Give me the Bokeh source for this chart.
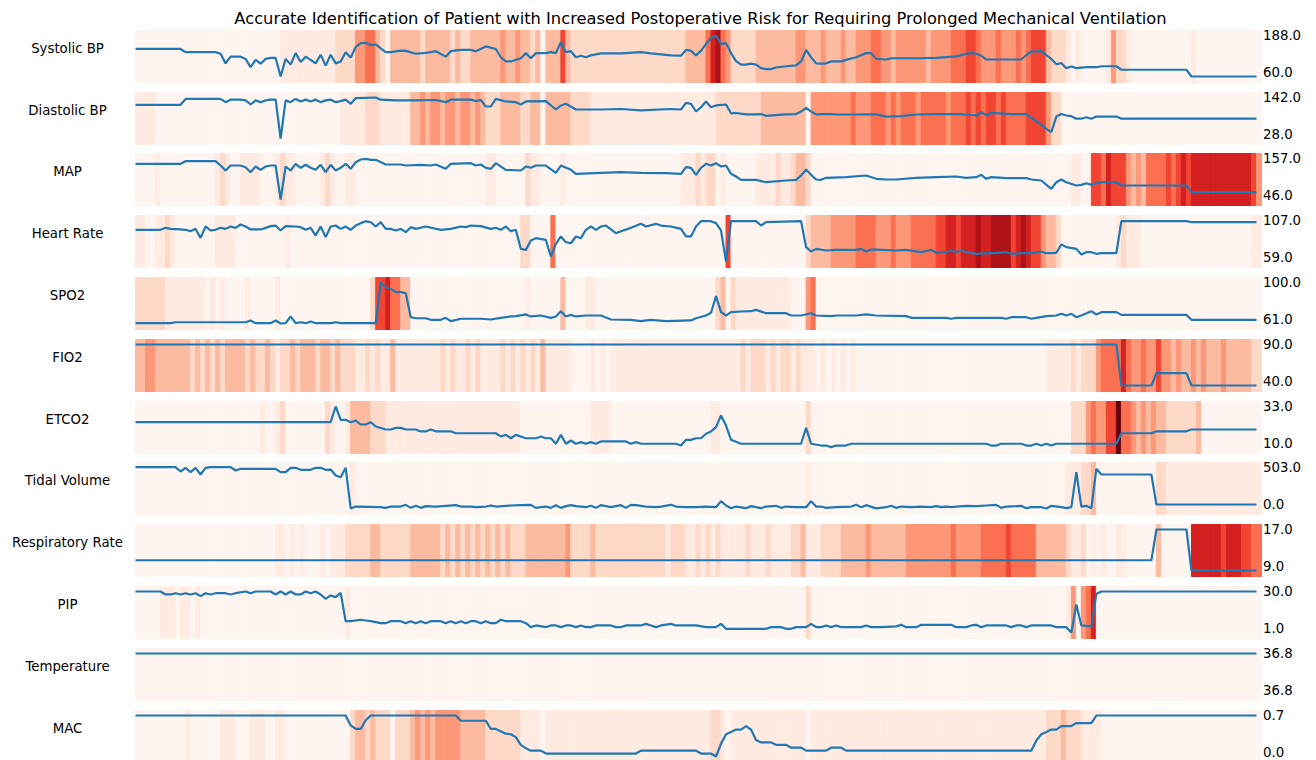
from bokeh.plotting import figure
from bokeh.models import Range1d, Label, ColumnDataSource, LinearColorMapper
from bokeh.layouts import column
from bokeh.embed import file_html
from bokeh.resources import INLINE

TITLE = "Accurate Identification of Patient with Increased Postoperative Risk for Requiring Prolonged Mechanical Ventilation"
N_STEPS = 225

ROW_NAMES = ["Systolic BP", "Diastolic BP", "MAP", "Heart Rate", "SPO2", "FIO2", "ETCO2",
             "Tidal Volume", "Respiratory Rate", "PIP", "Temperature", "MAC"]
LABEL_HI = [188.0, 142.0, 157.0, 107.0, 100.0, 90.0, 33.0, 503.0, 17.0, 30.0, 36.8, 0.7]
LABEL_LO = [60.0, 28.0, 46.0, 59.0, 61.0, 40.0, 10.0, 0.0, 9.0, 1.0, 36.8, 0.0]

# line series: (time step, value)
SYS = [(0,146),(9,146),(10,136),(16,136),(17,131),(18,101),(19,122),(21,122),(22,115),(23,89),(24,112),(25,100),(26,115),(27,118),(28,118),(29,60),(30,115),(31,97),(32,133),(33,105),(34,122),(35,112),(36,101),(37,128),(38,94),(39,128),(40,101),(41,107),(42,136),(43,119),(44,152),(45,164),(46,165),(47,158),(48,160),(49,148),(50,136),(51,136),(53,141),(54,140),(56,131),(58,134),(59,136),(60,139),(62,122),(63,139),(65,143),(67,143),(68,139),(70,154),(72,146),(73,120),(74,107),(75,107),(77,117),(78,133),(79,117),(80,133),(82,133),(83,136),(84,133),(85,167),(86,136),(87,139),(88,120),(89,125),(90,120),(91,126),(93,132),(97,132),(101,136),(103,132),(107,126),(109,125),(110,143),(111,140),(112,126),(113,140),(114,162),(115,181),(116,188),(117,162),(118,164),(119,133),(120,108),(121,97),(122,97),(123,100),(124,97),(125,86),(126,83),(127,83),(128,88),(130,92),(132,95),(133,107),(134,143),(135,120),(136,101),(137,100),(138,101),(139,107),(141,107),(142,112),(144,120),(146,133),(147,133),(148,115),(150,113),(151,117),(156,117),(160,118),(164,123),(166,131),(167,134),(168,131),(169,125),(170,113),(177,113),(178,127),(179,138),(181,139),(182,127),(183,115),(184,98),(185,102),(186,86),(187,91),(188,86),(190,89),(192,89),(193,92),(196,92),(197,81),(210,81),(211,60),(224,60)]
DIA = [(0,121.7),(9,121.7),(10,138),(17,138),(18,129),(19,136),(21,136),(22,134),(23,122.5),(24,134),(25,129),(26,134),(27,136),(28,136),(29,28),(30,134),(31,129),(32,138),(33,131),(34,136),(35,131),(36,136),(37,129),(38,134),(39,136),(40,129),(41,132),(42,136),(43,124.5),(44,140),(46,141),(48,142),(49,136),(52,134),(56,134),(60,135),(62,129),(63,136),(67,136),(68,132),(69,135),(70,117),(71,117),(72,138),(74,131),(76,129),(77,122.5),(78,131),(82,132),(84,108.6),(85,119.8),(86,124.5),(88,108.6),(93,108.6),(97,110),(101,106),(107,110),(109,108.6),(110,127),(111,124.5),(112,103),(113,115),(114,131),(115,115),(116,120),(118,122.5),(119,98),(120,99),(122,95),(124,95),(125,96),(126,91),(130,95),(132,96),(133,103),(134,113),(135,103),(136,95),(137,96),(139,96),(140,94.7),(144,94.7),(146,95),(148,95),(150,89),(153,90),(156,94.7),(160,96),(164,96),(166,94.7),(168,92),(169,101),(170,93),(171,99),(175,96),(178,96),(179,85.6),(180,76),(182,55),(183,45.6),(184,89),(185,96),(186,92),(187,90),(188,83),(189,83),(190,87),(191,83),(192,89),(196,89),(197,83),(224,83)]
MAP = [(0,142.6),(9,142.6),(10,149.7),(16,149.7),(17,138),(18,124.5),(19,138),(21,138),(22,133.5),(23,120),(24,135.3),(25,126.4),(26,135.3),(27,138),(28,138),(29,46),(30,135.3),(31,124.5),(32,142.6),(33,131.8),(34,139.9),(35,131.8),(36,126.4),(37,139.9),(38,120),(39,139.9),(40,124.5),(41,131.8),(42,142.6),(43,129),(44,147),(45,154.3),(46,156),(47,153.4),(48,153.4),(50,140.8),(53,140.8),(54,138),(57,139.9),(59,138),(60,140.8),(62,129),(63,142.6),(67,144.4),(68,138),(69,140.8),(70,131.8),(71,129),(72,144.4),(74,126.4),(77,124.5),(78,135.3),(79,131.8),(80,138),(82,138),(84,118.2),(85,138),(87,126.4),(88,115.5),(93,118.2),(97,120),(101,118.2),(106,117.3),(109,115.5),(110,133.5),(111,131.8),(112,112.8),(113,131.8),(114,142.6),(115,138),(116,144.4),(117,135.3),(118,138),(119,115.5),(120,108.3),(121,99.3),(124,99.3),(125,95.6),(126,92.8),(130,97.4),(132,99.3),(133,111),(134,127.2),(135,112.8),(136,100.2),(137,99.3),(138,104.7),(142,106.5),(146,111),(148,102),(150,100.2),(152,100.2),(156,104.7),(160,106.5),(164,108.3),(166,104.7),(168,106.5),(169,112.8),(170,102),(171,106.5),(174,103.8),(178,103.8),(179,100.2),(181,97.4),(183,75),(184,92.8),(185,100.2),(186,92.8),(188,83.9),(189,85.7),(190,90.2),(191,85.7),(192,90.2),(193,92.8),(196,92.8),(197,83.9),(210,83.9),(211,65.9),(224,65.9)]
HR = [(0,96.1),(5,96.1),(6,98.4),(7,97.2),(9,96.5),(10,96.1),(11,94.5),(12,97.2),(13,86.7),(14,100),(15,95.3),(16,96.1),(17,98.4),(18,97.2),(19,100),(20,98.4),(21,102.3),(22,100),(23,96.5),(25,96.5),(26,98.4),(27,100.4),(28,101.1),(29,95.3),(30,100.4),(32,100),(33,99.2),(34,96.1),(35,98.4),(36,89.4),(37,100),(38,87.5),(39,100),(40,101.1),(41,97.2),(42,100),(43,96.1),(44,101.1),(45,103.9),(46,106.2),(47,105),(48,100),(49,105),(50,97.2),(51,97.2),(52,95.3),(53,97.2),(54,93.3),(55,99.2),(56,97.2),(58,100),(61,96.1),(63,97.2),(65,100),(66,99.2),(67,101.1),(69,100.4),(71,97.2),(72,98.4),(73,96.1),(74,100),(75,94.5),(76,96.1),(77,73.8),(78,72.6),(79,83.6),(80,86.3),(82,84.4),(83,64.8),(84,79.7),(85,88.3),(86,81.6),(87,80.4),(88,88.3),(89,86.3),(90,96.1),(91,100),(92,96.1),(93,100),(94,101.1),(96,92.1),(97,94.5),(99,98.4),(101,103.1),(102,100),(104,103.1),(105,101.1),(107,100),(109,97.2),(110,88.3),(111,88.3),(112,100),(113,106.2),(115,106.2),(116,103.9),(117,95.3),(118,59),(119,106.2),(124,106.2),(125,101.1),(126,105),(133,106.2),(134,75.8),(135,70.7),(136,73.8),(138,71.9),(140,72.6),(144,72.6),(145,73.8),(146,70.7),(147,73),(148,73),(152,71.9),(154,72.6),(157,69.9),(159,72.6),(160,69.2),(162,69.9),(163,71.9),(164,69.9),(165,72.6),(166,69.9),(168,68),(170,68.7),(172,68.7),(174,69.9),(175,68),(177,68.7),(179,68.7),(181,70.7),(182,68.7),(184,69.2),(185,78.9),(186,75.8),(188,73.8),(189,67.2),(190,69.9),(191,69.9),(192,68),(193,68.7),(196,68.7),(197,106.2),(210,106.2),(211,105),(224,105)]
SPO2 = [(0,61.3),(7,61.3),(8,62.2),(22,62.2),(23,63.9),(24,61.3),(27,61.3),(28,63.9),(29,61),(30,61.3),(31,67.7),(32,61.3),(33,62.2),(34,61.3),(35,62.9),(36,61.3),(39,61.3),(40,62.2),(41,61.3),(48,61.3),(49,100),(50,95.5),(51,94),(52,90.8),(53,90.8),(54,89.9),(55,67),(56,66),(58,66),(59,64.5),(61,64.5),(62,66.4),(63,63.2),(65,65.5),(69,65.5),(71,64.8),(73,66.4),(75,67.7),(76,68),(78,69.6),(79,67.7),(81,68.6),(83,66.4),(84,67.7),(85,72.7),(86,67.7),(87,69.2),(88,67.7),(90,68.6),(93,68.6),(95,64.8),(99,64.5),(101,63.2),(103,64.5),(106,63.2),(111,63.9),(112,66),(114,68.6),(115,71.2),(116,87),(117,71.8),(118,68.6),(119,71.8),(121,72.4),(123,72.7),(124,74),(126,70.8),(130,70.8),(131,68.6),(133,68.6),(135,70.8),(136,68.6),(139,68),(140,68.6),(144,68.6),(146,69.6),(148,68.6),(154,68),(155,66.4),(162,66.4),(163,65.5),(164,66.4),(173,66.4),(174,65.5),(175,67),(178,67),(179,65.5),(180,66.4),(182,68),(184,68.6),(185,70.2),(186,68.6),(187,70.2),(188,67),(189,68.6),(191,72.7),(192,69.6),(193,71.8),(196,71.8),(197,69.2),(210,69.2),(211,64.5),(224,64.5)]
FIO2 = [(0,90),(196,90),(197,40),(203,40),(204,55),(210,55),(211,40),(224,40)]
ETCO2 = [(0,24.2),(39,24.2),(40,33),(41,25.5),(42,25.5),(43,24.2),(44,25.1),(45,22.9),(46,22.9),(47,24.2),(48,21.8),(50,20.1),(51,20.1),(52,21),(53,21),(54,20.1),(56,20.1),(57,19),(58,19),(59,20.1),(60,19.1),(63,19.1),(64,18),(72,18),(73,16.2),(74,17.1),(75,15.2),(76,17.1),(78,15.2),(80,15.2),(81,16.2),(82,15.2),(83,15.2),(84,12.1),(85,17.1),(86,12.1),(87,13.9),(88,12.1),(89,13),(90,12.1),(91,13),(92,12.1),(93,13.4),(98,13.4),(99,12.1),(100,13),(101,12.1),(108,12.1),(109,11.1),(110,14.3),(111,14.3),(112,15.2),(113,15.2),(114,17.7),(115,19),(116,21.4),(117,28),(118,22.3),(119,14.3),(121,12.1),(133,12.1),(134,21),(135,12.1),(137,11.1),(138,11.1),(139,10.2),(140,11.1),(142,11.1),(143,12.1),(170,12.1),(171,11.1),(172,11.1),(173,12.1),(177,12.1),(178,11.1),(179,11.1),(180,12.1),(181,11.1),(182,12.1),(183,11.1),(184,12.1),(196,12.1),(197,18),(203,18),(204,19.1),(210,19.1),(211,20.1),(224,20.1)]
TV = [(0,507),(8,507),(9,454),(10,499),(11,446),(12,499),(13,417),(14,499),(15,507),(19,507),(20,466),(21,487),(28,487),(29,446),(30,446),(31,499),(32,499),(33,475),(35,475),(36,499),(37,499),(38,475),(39,478),(40,405),(41,384),(42,499),(43,0),(44,24),(49,16),(50,8),(51,24),(53,24),(54,45),(55,8),(56,33),(57,8),(58,29),(60,24),(64,41),(65,24),(67,24),(68,16),(70,24),(71,37),(72,24),(75,37),(77,41),(79,45),(80,8),(81,16),(82,24),(83,8),(84,41),(85,8),(86,29),(87,41),(88,29),(90,16),(91,33),(92,8),(93,41),(95,16),(97,41),(98,8),(99,45),(100,41),(102,24),(104,16),(105,24),(107,45),(108,24),(110,16),(112,16),(114,24),(116,16),(117,90),(118,37),(119,4),(120,24),(122,4),(123,29),(124,16),(125,4),(126,24),(128,33),(129,8),(130,24),(132,16),(134,16),(135,90),(136,24),(137,24),(138,8),(140,16),(143,24),(144,45),(145,16),(146,41),(148,2),(150,16),(151,33),(152,8),(153,24),(155,16),(157,24),(159,16),(160,29),(161,16),(162,24),(163,16),(164,24),(166,33),(168,29),(170,37),(172,45),(173,8),(174,24),(176,29),(177,33),(178,4),(179,16),(181,16),(182,0),(183,33),(185,16),(186,4),(187,16),(188,446),(189,24),(190,33),(191,4),(192,487),(193,417),(203,417),(204,49),(224,49)]
RR = [(0,11),(203,11),(204,17),(210,17),(211,9),(224,9)]
PIP = [(0,30),(5,30),(6,27.9),(7,27.9),(8,28.8),(9,27.9),(10,28.8),(11,27.9),(12,28.8),(13,26.7),(14,28.8),(15,27.9),(16,28.8),(18,28.8),(19,27.9),(20,28.8),(22,30),(23,28.8),(24,30),(27,30),(28,27.9),(29,30),(30,27.9),(31,30),(32,27.9),(33,27.9),(34,30),(35,28.8),(36,30),(37,27.9),(38,24.8),(39,27.2),(40,26),(41,29),(42,9),(43,9),(45,10),(46,9.5),(47,9),(49,7.6),(50,7.6),(51,9),(53,9),(54,7.6),(55,9),(56,7.6),(57,9),(58,7.6),(59,9),(61,9),(62,7.6),(63,9),(64,7.6),(65,9),(66,7.6),(67,9),(68,9),(69,7.6),(70,9),(71,7.6),(72,7.6),(73,10),(74,9),(77,9),(78,7.6),(79,4.8),(80,6),(82,4.8),(83,6),(84,6),(85,4.8),(86,6),(87,6),(88,4.8),(89,6),(90,4.8),(91,4.8),(92,6),(95,6),(96,4.8),(97,4.8),(98,6),(101,6),(102,7.1),(103,6),(104,4.8),(105,6),(107,7.1),(108,6),(112,6),(114,4.8),(116,4.8),(117,7.1),(118,3.6),(126,3.6),(127,4.8),(129,4.8),(130,3.6),(131,3.6),(132,4.8),(134,4.8),(135,7.1),(136,4.8),(137,4.8),(138,6),(139,4.8),(140,6),(141,4.8),(145,4.8),(146,6),(147,4.8),(149,4.8),(152,5.3),(153,6.4),(154,4.8),(156,4.8),(157,6.4),(163,6.4),(164,4.8),(166,4.8),(167,6),(168,6.4),(169,4.8),(170,6),(174,6),(175,4.8),(176,6),(177,6),(178,4.8),(179,6),(183,6),(184,4.8),(186,4.8),(187,1),(188,20.8),(189,6),(191,5.3),(192,28.3),(193,30),(224,30)]
TEMP = [(0,36.8),(224,36.8)]
MAC = [(0,0.7),(42,0.7),(43,0.53),(44,0.47),(45,0.47),(46,0.62),(47,0.7),(64,0.7),(65,0.61),(70,0.61),(71,0.47),(72,0.47),(74,0.39),(75,0.38),(76,0.33),(77,0.2),(78,0.14),(79,0.1),(81,0.1),(82,0.05),(100,0.05),(101,0.1),(112,0.1),(113,0.05),(115,0.05),(116,0.0),(117,0.22),(118,0.38),(119,0.42),(120,0.46),(121,0.46),(122,0.52),(123,0.46),(124,0.28),(125,0.24),(127,0.24),(128,0.2),(130,0.2),(131,0.15),(133,0.15),(134,0.1),(138,0.1),(139,0.15),(141,0.15),(142,0.1),(179,0.1),(180,0.27),(181,0.38),(182,0.42),(183,0.46),(184,0.46),(185,0.52),(187,0.52),(188,0.57),(191,0.57),(192,0.7),(224,0.7)]

# risk heat level per time step (0 = none ... 9 = highest), groups of 5 steps
HEAT_SYS = "00000 00000 00000 00000 00000 00001 11111 11111 22224 45532 03333 33233 33323 22333 33343 34332 30333 63222 22222 22222 22222 22222 33335 78542 22223 33333 33443 33433 34334 44554 43444 44434 44455 56654 44544 45456 66322 21010 00001 42210 00000 00000 01000 00000 00000"
HEAT_DIA = "11110 00000 00000 00000 00000 00000 00000 00000 01111 12221 11111 33434 43443 44343 22233 33223 30333 33222 21111 11111 11111 11111 11111 12222 22222 33333 33330 44444 44454 44555 45455 54555 55455 56565 66565 55566 66422 00000 00000 00000 00000 00000 00000 00000 00000"
HEAT_MAP = "00001 00000 00000 01210 01111 00012 11000 00121 00110 00000 00000 00000 00000 00000 11000 00021 10000 10000 00000 00000 00000 00001 11212 20100 00001 11121 12332 00000 00000 00000 00000 00000 00000 00000 00000 00000 00000 00110 06657 66643 43555 56567 67777 77777 77764"
HEAT_HR = "11001 12100 00000 01111 00000 00000 10000 00000 00000 00000 00000 00000 00000 00000 00000 00220 00050 00000 00000 00000 00000 00000 00000 00060 00000 00000 00002 33334 44445 55544 45444 55555 66776 77787 78888 67876 64332 00000 00000 01211 10000 00000 00000 00000 00011"
HEAT_SPO2 = "22222 21111 11110 10100 00100 00010 00000 00000 00000 00266 75533 00000 00000 00000 00000 00010 00000 30000 11000 00000 00000 00000 00000 02302 11111 11111 10004 50000 00000 00000 00000 00000 00000 00000 00000 00000 00000 00000 00000 00000 00000 00000 00000 00000 00000"
HEAT_FIO2 = "33443 33333 32323 23233 33232 23212 23233 32332 32221 12121 13111 11111 12121 12121 11121 21212 13111 11000 01010 11111 11111 11111 11111 11111 12122 21212 21211 10101 01010 00000 00000 00000 00000 00000 00000 00000 00111 11212 22455 55754 45446 44343 34343 33433 33322"
HEAT_ETCO2 = "00000 00000 00000 00000 00000 10012 00000 00021 00133 33222 11111 11111 11111 11111 11111 11000 00000 00000 01111 00000 00000 00000 00000 11000 00000 00000 00002 00000 00000 00000 00000 00000 00000 00000 00000 00000 00000 00222 45446 69554 34343 32222 22300 00000 00000"
HEAT_TV = "00000 00000 00000 00000 00000 00000 00000 00000 00010 00000 00000 00000 00000 00000 00000 00000 00000 00000 00000 00000 00000 00000 00000 00000 00000 00000 00001 00000 00000 00000 00000 00000 00000 00000 00000 00000 00000 01112 23000 00000 00002 21111 11111 11111 11111"
HEAT_RR = "00000 00000 00000 00000 00000 00011 01010 00101 11222 22332 22222 33333 32323 23232 32323 22233 33333 34222 23222 22222 22222 21222 11212 12111 11211 12111 12231 11222 23333 34333 33334 44444 44454 44445 55556 55555 33333 32112 01010 01100 00003 00000 07777 77677 76655"
HEAT_PIP = "00000 11101 10100 00000 00000 00000 00000 00000 00100 00000 00000 00000 00000 00000 00000 00000 00000 00000 00000 00000 00000 00000 00000 00000 00000 00000 00002 00000 00000 00000 00000 00000 00000 00000 00000 00000 00000 01404 57000 00000 00000 00000 00000 00000 00000"
HEAT_TEMP = "00000 00000 00000 00000 00000 00000 00000 00000 00000 00000 00000 00000 00000 00000 00000 00000 00000 00000 00000 00000 00000 00000 00000 00000 00000 00000 00000 00000 00000 00000 00000 00000 00000 00000 00000 00000 00000 00000 00000 00000 00000 00000 00000 00000 00000"
HEAT_MAC = "00000 00000 10000 00111 00011 10011 00000 00000 00023 32322 20222 34343 44444 33333 22222 22111 10111 11111 11111 11111 11111 11111 11111 22101 11111 11111 11110 11111 11111 11111 11111 11111 11111 11111 11111 11111 11222 32221 11100 00000 00000 00000 00000 00000 00000"

SERIES = [SYS, DIA, MAP, HR, SPO2, FIO2, ETCO2, TV, RR, PIP, TEMP, MAC]
HEATS = [HEAT_SYS, HEAT_DIA, HEAT_MAP, HEAT_HR, HEAT_SPO2, HEAT_FIO2, HEAT_ETCO2,
         HEAT_TV, HEAT_RR, HEAT_PIP, HEAT_TEMP, HEAT_MAC]

# ---- styling / layout ----
REDS9 = ["#fff5f0", "#fee0d2", "#fcbba1", "#fc9272", "#fb6a4a", "#ef3b2c", "#cb181d", "#a50f15", "#67000d"]
LEVEL_FRAC = [0.0, 0.06, 0.15, 0.25, 0.36, 0.48, 0.60, 0.72, 0.85, 1.0]


def _rgb(h):
    return tuple(int(h[i:i + 2], 16) for i in (1, 3, 5))


def reds(f):
    x = f * (len(REDS9) - 1)
    i = min(int(x), len(REDS9) - 2)
    u = x - i
    a, b = _rgb(REDS9[i]), _rgb(REDS9[i + 1])
    return "#%02x%02x%02x" % tuple(round(a[j] + (b[j] - a[j]) * u) for j in range(3))


mapper = LinearColorMapper(palette=[reds(f) for f in LEVEL_FRAC], low=-0.5, high=9.5)

W = 1316
TOTAL_H = 760
STRIP_L = 135
STRIP_W = 1126
STRIP_H = 52
TOPS = [30, 92, 153, 215, 277, 339, 401, 462, 524, 586, 648, 710]
GAP_ABOVE = 5  # each figure starts this many px above its strip
FONT = "DejaVu Sans"
LINE_COLOR = "#1f77b4"
U = N_STEPS / STRIP_W  # data units per pixel

figs = []
for r in range(12):
    start_y = 0 if r == 0 else TOPS[r] - GAP_ABOVE
    end_y = (TOPS[r + 1] - GAP_ABOVE) if r < 11 else TOTAL_H
    h = end_y - start_y
    above = TOPS[r] - start_y
    below = end_y - (TOPS[r] + STRIP_H)  # negative for the last (cut) strip

    p = figure(width=W, height=h,
               x_range=Range1d(-STRIP_L * U, (W - STRIP_L) * U),
               y_range=Range1d(-below / STRIP_H, 1 + above / STRIP_H),
               output_backend="svg", toolbar_location=None, title=None,
               x_axis_location=None, y_axis_location=None,
               min_border_left=0, min_border_right=0, min_border_top=0, min_border_bottom=0)
    p.grid.visible = False
    p.outline_line_color = None
    p.background_fill_color = "white"
    p.border_fill_color = "white"

    digits = [int(ch) for ch in HEATS[r] if ch.isdigit()][:N_STEPS]
    idx = list(range(len(digits)))
    src = ColumnDataSource(dict(left=idx, right=[i + 1 for i in idx], lvl=digits))
    p.quad(left="left", right="right", bottom=0, top=1, source=src,
           fill_color={"field": "lvl", "transform": mapper},
           line_color={"field": "lvl", "transform": mapper}, line_width=1)

    hi, lo = LABEL_HI[r], LABEL_LO[r]
    span = (hi - lo) if hi != lo else 1.0
    k = span / 41.0  # value per pixel
    p.extra_y_ranges = {"val": Range1d(hi - span - (6 + below) * k, hi + (5 + above) * k)}
    t = [a for a, b in SERIES[r]]
    v = [b for a, b in SERIES[r]]
    p.line(x=t, y=v, y_range_name="val", line_color=LINE_COLOR, line_width=2.2)

    p.add_layout(Label(x=-68 * U, y=1 - 17.5 / STRIP_H, text=ROW_NAMES[r],
                       text_align="center", text_baseline="middle",
                       text_font=FONT, text_font_size="13.3px", text_color="black"))
    p.add_layout(Label(x=N_STEPS + 1.5 * U, y=1 - 4.5 / STRIP_H, text="%.1f" % hi,
                       text_align="left", text_baseline="middle",
                       text_font=FONT, text_font_size="13.3px", text_color="black"))
    p.add_layout(Label(x=N_STEPS + 1.5 * U, y=11.0 / STRIP_H, text="%.1f" % lo,
                       text_align="left", text_baseline="middle",
                       text_font=FONT, text_font_size="13.3px", text_color="black"))
    if r == 0:
        p.add_layout(Label(x=(700 - STRIP_L) * U, y=1 + 12.3 / STRIP_H, text=TITLE,
                           text_align="center", text_baseline="alphabetic",
                           text_font=FONT, text_font_size="16.3px", text_color="black"))
    figs.append(p)

layout = column(*figs, spacing=0)
with open("out.html", "w") as f:
    f.write(file_html(layout, INLINE))
